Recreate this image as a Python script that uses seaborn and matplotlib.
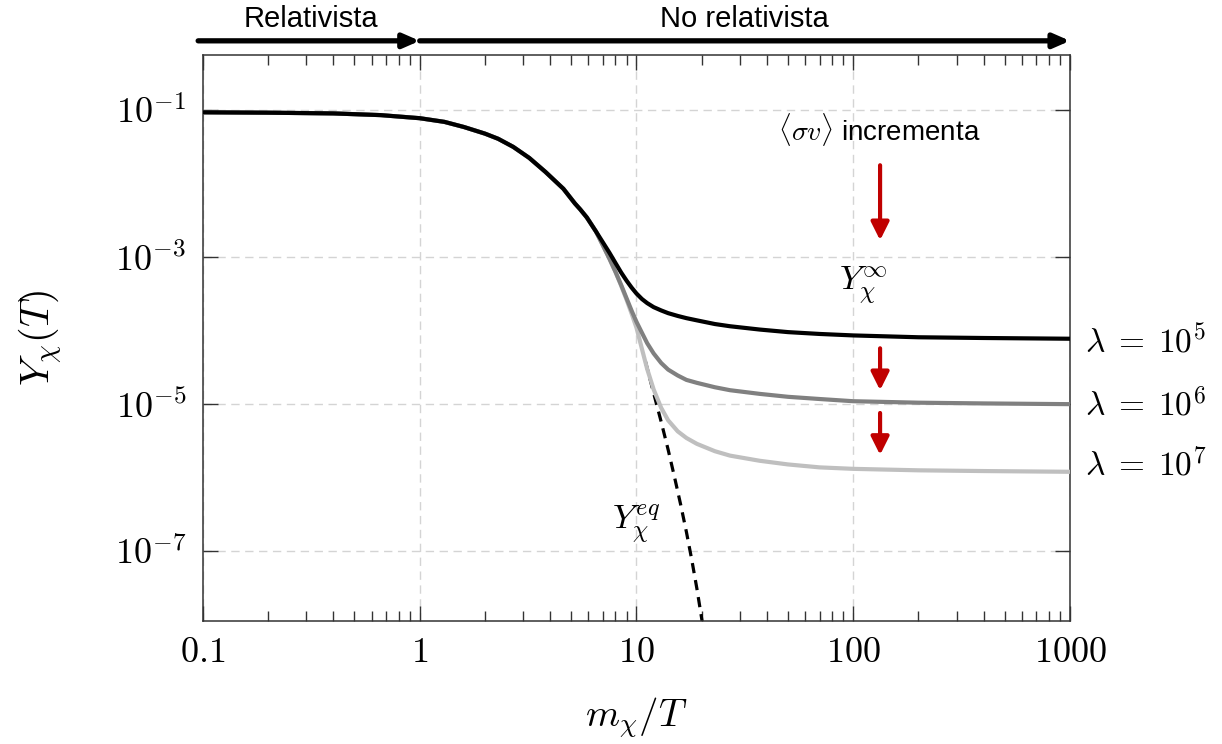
import numpy as np
import pandas as pd
import matplotlib
matplotlib.use("Agg")
import matplotlib.pyplot as plt
import matplotlib.transforms as mtransforms
from matplotlib.ticker import FixedLocator, FixedFormatter, NullFormatter
import seaborn as sns

# ---------------- data ----------------
x_vals = [0.1, 0.2, 0.4, 0.66, 1.0, 1.3, 1.6, 2.0, 2.3, 2.7, 3.2, 3.8, 4.6, 5.2,
          5.5, 5.9, 6.5, 7.0, 7.5, 8.0, 8.5, 9.0, 9.5, 10, 10.6, 11.2, 12, 13, 14,
          15.5, 17, 19, 23, 27, 37, 50, 70, 100, 200, 400, 1000]
logY_l5 = [-1.03, -1.035, -1.045, -1.068, -1.11, -1.16, -1.23, -1.32, -1.39, -1.50,
           -1.65, -1.84, -2.07, -2.27, -2.35, -2.46, -2.65, -2.80, -2.94, -3.08,
           -3.21, -3.32, -3.415, -3.495, -3.57, -3.625, -3.68, -3.725, -3.762, -3.80,
           -3.83, -3.86, -3.91, -3.94, -3.985, -4.02, -4.045, -4.065, -4.09, -4.10, -4.11]
logY_l6 = [-1.03, -1.035, -1.045, -1.068, -1.11, -1.16, -1.23, -1.32, -1.39, -1.50,
           -1.65, -1.84, -2.07, -2.27, -2.35, -2.46, -2.65, -2.84, -3.02, -3.20,
           -3.38, -3.56, -3.73, -3.88, -4.03, -4.17, -4.31, -4.44, -4.53, -4.61,
           -4.67, -4.71, -4.77, -4.81, -4.86, -4.90, -4.93, -4.96, -4.98, -4.99, -5.00]
logY_l7 = [-1.03, -1.035, -1.045, -1.068, -1.11, -1.16, -1.23, -1.32, -1.39, -1.50,
           -1.65, -1.84, -2.07, -2.27, -2.35, -2.46, -2.65, -2.84, -3.02, -3.20,
           -3.39, -3.58, -3.77, -3.96, -4.25, -4.52, -4.80, -5.05, -5.22, -5.37,
           -5.46, -5.54, -5.64, -5.70, -5.77, -5.82, -5.86, -5.88, -5.90, -5.91, -5.92]
x_eq = [11, 12, 13, 14, 15, 16, 17, 18, 19, 20, 21]
logY_eq = [-4.42, -4.85, -5.24, -5.62, -6.00, -6.37, -6.74, -7.12, -7.51, -7.92, -8.33]

series_labels = [r"$\lambda\;=\;10^5$", r"$\lambda\;=\;10^6$", r"$\lambda\;=\;10^7$"]
series_colors = ["#000000", "#808080", "#bfbfbf"]
x_ticks = [0.1, 1, 10, 100, 1000]
x_ticklabels = ["$0.1$", "$1$", "$10$", "$100$", "$1000$"]
y_ticks = [1e-1, 1e-3, 1e-5, 1e-7]
y_ticklabels = [r"$10^{-1}$", r"$10^{-3}$", r"$10^{-5}$", r"$10^{-7}$"]
label_logY = [-4.17, -5.01, -5.83]
arrow_x = 133
arrow_logY = [(-1.75, -2.77), (-4.24, -4.81), (-5.12, -5.69)]

# ---------------- style ----------------
sns.set_theme(style="ticks")
plt.rcParams["font.family"] = ["DejaVu Sans"]
plt.rcParams["mathtext.fontset"] = "cm"
for k in ["text.color", "axes.labelcolor", "xtick.labelcolor", "ytick.labelcolor"]:
    plt.rcParams[k] = "black"

fig = plt.figure(figsize=(12.22, 7.44), dpi=100)
ax = fig.add_axes([0.1661, 0.1653, 0.7095, 0.7608])

df = pd.concat([
    pd.DataFrame({"x": x_vals, "Y": 10 ** np.array(l), "s": lab})
    for l, lab in zip([logY_l5, logY_l6, logY_l7], series_labels)
])
df_eq = pd.DataFrame({"x": x_eq, "Y": 10 ** np.array(logY_eq)})

sns.lineplot(data=df_eq, x="x", y="Y", ax=ax, color="black", lw=2.3,
             linestyle=(0, (3.2, 2.2)), zorder=2, legend=False)
for lab, col, z in zip(reversed(series_labels), reversed(series_colors), [3, 4, 5]):
    sns.lineplot(data=df[df["s"] == lab], x="x", y="Y", ax=ax, color=col,
                 lw=3.0, zorder=z, legend=False, sort=False)

ax.set_xscale("log")
ax.set_yscale("log")
ax.set_xlim(0.1, 1000)
ax.set_ylim(10 ** -7.95, 10 ** -0.25)

ax.xaxis.set_major_locator(FixedLocator(x_ticks))
ax.xaxis.set_major_formatter(FixedFormatter(x_ticklabels))
minor = [m * 10.0 ** e for e in range(-1, 3) for m in range(2, 10)]
ax.xaxis.set_minor_locator(FixedLocator(minor))
ax.xaxis.set_minor_formatter(NullFormatter())
ax.yaxis.set_major_locator(FixedLocator(y_ticks))
ax.yaxis.set_major_formatter(FixedFormatter(y_ticklabels))
ax.yaxis.set_minor_locator(FixedLocator([]))

ax.tick_params(which="major", direction="in", length=11, width=1.0,
               color="#333333", top=True, right=True, labelsize=26)
ax.tick_params(axis="x", which="major", pad=10)
ax.tick_params(axis="y", which="major", pad=12)
ax.tick_params(which="minor", direction="in", length=7, width=1.0,
               color="#333333", top=True, right=False)
for sp in ax.spines.values():
    sp.set_color("#333333")
    sp.set_linewidth(1.1)

ax.grid(True, which="major", color="#d4d4d4", lw=1.0, linestyle=(0, (6, 4)))
ax.set_axisbelow(True)

ax.set_xlabel(r"$m_\chi/T$", fontsize=28, labelpad=19)
ax.set_ylabel(r"$Y_\chi(T)$", fontsize=29, labelpad=36)

# series labels at right
trans_r = mtransforms.blended_transform_factory(ax.transAxes, ax.transData)
for lab, ly in zip(series_labels, label_logY):
    ax.text(1.017, 10 ** ly, lab, transform=trans_r, fontsize=24,
            va="center", ha="left", clip_on=False)

# red arrows
for y0, y1 in arrow_logY:
    ax.annotate("", xy=(arrow_x, 10 ** y1), xytext=(arrow_x, 10 ** y0),
                arrowprops=dict(arrowstyle="-|>,head_length=0.9,head_width=0.45",
                                color="#c00000", lw=3.0, shrinkA=0, shrinkB=0),
                zorder=6)

ax.text(132, 10 ** -1.26, r"$\langle\sigma v\rangle$ incrementa", fontsize=20,
        ha="center", va="center", family=["Liberation Sans", "DejaVu Sans"])
ax.text(112, 10 ** -3.38, r"$Y_\chi^\infty$", fontsize=25, ha="center", va="center")
ax.text(10.0, 10 ** -6.62, r"$Y_\chi^{eq}$", fontsize=25, ha="center", va="center")

# top arrows
trans_t = mtransforms.blended_transform_factory(ax.transData, ax.transAxes)
for (xa, xb) in [(0.095, 1.0), (1.0, 1000)]:
    ax.annotate("", xy=(xb, 1.025), xytext=(xa, 1.025), xycoords=trans_t,
                textcoords=trans_t,
                arrowprops=dict(arrowstyle="-|>,head_length=0.8,head_width=0.35",
                                color="black", lw=3.8, shrinkA=0, shrinkB=0),
                annotation_clip=False)
top_font = ["Liberation Sans", "DejaVu Sans"]
ax.text(0.316, 1.064, "Relativista", transform=trans_t, fontsize=21,
        ha="center", va="center", family=top_font)
ax.text(31.6, 1.064, "No relativista", transform=trans_t, fontsize=21,
        ha="center", va="center", family=top_font)

fig.savefig("out.png", dpi=100)
